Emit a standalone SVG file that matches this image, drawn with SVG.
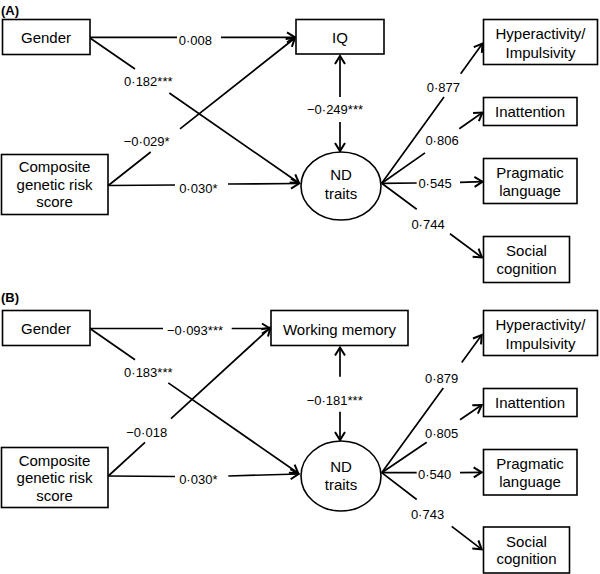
<svg xmlns="http://www.w3.org/2000/svg" width="600" height="574" viewBox="0 0 600 574">
<style>
.box{fill:#fff;stroke:#000;stroke-width:1.6}
.nt{font-family:"Liberation Sans",Arial,sans-serif;font-size:15px;text-anchor:middle;fill:#000}
.lb{font-family:"Liberation Sans",Arial,sans-serif;font-size:13px;text-anchor:middle;fill:#000}
.pl{font-family:"Liberation Sans",Arial,sans-serif;font-size:13px;font-weight:bold;fill:#000}
.c{fill:none;stroke:#000;stroke-width:1.7;marker-end:url(#ah)}
.d{fill:none;stroke:#000;stroke-width:1.7;marker-start:url(#ah);marker-end:url(#ah)}
</style>
<defs>
<marker id="ah" viewBox="-11 -7 13 14" markerWidth="13" markerHeight="14" refX="0" refY="0" orient="auto-start-reverse" markerUnits="userSpaceOnUse">
<path d="M-8,-5 L0,0 L-8,5" fill="none" stroke="#000" stroke-width="2"/>
</marker>
</defs>
<rect width="600" height="574" fill="#fff"/>

<!-- Panel A -->
<text class="pl" x="1" y="15">(A)</text>
<g id="connectorsA">
<path class="c" d="M90,37.3 L177,37.3 M221,37.3 L295,37.3"/>
<path class="c" d="M90,38 L135,69 M169.3,93 L299,183"/>
<path class="c" d="M108.3,185.5 L150.7,152 M180,128.9 L295,38"/>
<path class="c" d="M108.3,185.5 L175,185 M228,184 L299,183.5"/>
<path class="d" d="M340,56 L340,97 M340,122 L340,151"/>
<path class="c" d="M381.7,183.3 L444,97 M460.7,73.7 L482.5,43.5"/>
<path class="c" d="M381.7,183.3 L425,152.9 M459.3,128.8 L482.5,112.5"/>
<path class="c" d="M381.7,183.3 L416.7,183 M460,182.3 L482.5,181.7"/>
<path class="c" d="M381.7,183.3 L416.7,209.2 M450,233.8 L482,257.5"/>
<text class="lb" x="195.4" y="44.5">0·008</text>
<text class="lb" x="148.3" y="86">0·182***</text>
<text class="lb" x="146.7" y="146">−0·029*</text>
<text class="lb" x="198.3" y="192.5">0·030*</text>
<text class="lb" x="335" y="114">−0·249***</text>
<text class="lb" x="443.3" y="91.5">0·877</text>
<text class="lb" x="442" y="145">0·806</text>
<text class="lb" x="435" y="188">0·545</text>
<text class="lb" x="428" y="228.5">0·744</text>
</g>
<g id="genderA"><rect class="box" x="2.5" y="19.5" width="87.5" height="35"/><text class="nt" x="46" y="42.5">Gender</text></g>
<g id="compositeA"><rect class="box" x="1.5" y="154.5" width="106.5" height="60"/><text class="nt" x="54.5" y="172">Composite</text><text class="nt" x="54.5" y="189.5">genetic risk</text><text class="nt" x="54.5" y="207">score</text></g>
<g id="iqA"><rect class="box" x="296" y="19.5" width="88" height="34.5"/><text class="nt" x="340" y="42.5">IQ</text></g>
<g id="ndA"><ellipse class="box" cx="341" cy="186" rx="40" ry="34"/><text class="nt" x="341" y="180">ND</text><text class="nt" x="341" y="198.5">traits</text></g>
<g id="hyperA"><rect class="box" x="483.5" y="19.5" width="114" height="45"/><text class="nt" x="540.5" y="38.7">Hyperactivity/</text><text class="nt" x="540.5" y="57.7">Impulsivity</text></g>
<g id="inattA"><rect class="box" x="483.5" y="97.5" width="93.5" height="28"/><text class="nt" x="530" y="117">Inattention</text></g>
<g id="pragA"><rect class="box" x="483.5" y="158.5" width="93.5" height="45"/><text class="nt" x="530" y="178">Pragmatic</text><text class="nt" x="530" y="196">language</text></g>
<g id="socialA"><rect class="box" x="483.5" y="236.5" width="86" height="46"/><text class="nt" x="526.5" y="256">Social</text><text class="nt" x="526.5" y="273.7">cognition</text></g>

<!-- Panel B -->
<text class="pl" x="1" y="302">(B)</text>
<g id="connectorsB">
<path class="c" d="M90,328.5 L163,328.5 M231.7,328.5 L270,328.5"/>
<path class="c" d="M90.7,329 L135,359.8 M168.3,382.9 L298.3,473.3"/>
<path class="c" d="M108.3,476 L145,442.4 M171,418.6 L270.5,327.5"/>
<path class="c" d="M108.3,476 L175,476.5 M228.3,476 L298.5,474"/>
<path class="d" d="M340,347.5 L340,376.7 M340,411.7 L340,440"/>
<path class="c" d="M381.7,472.7 L443.3,387.9 M461.7,362.5 L481.7,335"/>
<path class="c" d="M381.7,472.7 L426.7,442.2 M460,419.7 L481.7,405"/>
<path class="c" d="M381.7,472.7 L416.7,472.7 M460,472.7 L481.7,472.3"/>
<path class="c" d="M381.7,472.7 L416.7,499.5 M451.7,526.3 L481.7,549.3"/>
<text class="lb" x="195" y="334.5">−0·093***</text>
<text class="lb" x="148.3" y="376.5">0·183***</text>
<text class="lb" x="146.7" y="436.5">−0·018</text>
<text class="lb" x="198.3" y="484">0·030*</text>
<text class="lb" x="334.7" y="405">−0·181***</text>
<text class="lb" x="441.7" y="382.5">0·879</text>
<text class="lb" x="441.7" y="437.5">0·805</text>
<text class="lb" x="434.7" y="478.5">0·540</text>
<text class="lb" x="427.5" y="519">0·743</text>
</g>
<g id="genderB"><rect class="box" x="2.5" y="310.5" width="87.5" height="35"/><text class="nt" x="46" y="334">Gender</text></g>
<g id="compositeB"><rect class="box" x="1.5" y="447.5" width="106.5" height="60"/><text class="nt" x="54.5" y="465.5">Composite</text><text class="nt" x="54.5" y="483">genetic risk</text><text class="nt" x="54.5" y="501">score</text></g>
<g id="wmB"><rect class="box" x="271" y="310.5" width="137" height="35"/><text class="nt" x="339.5" y="334.5">Working memory</text></g>
<g id="ndB"><ellipse class="box" cx="341" cy="476" rx="40" ry="35"/><text class="nt" x="341" y="471.5">ND</text><text class="nt" x="341" y="490">traits</text></g>
<g id="hyperB"><rect class="box" x="483.5" y="310.5" width="114" height="45"/><text class="nt" x="540.5" y="329.7">Hyperactivity/</text><text class="nt" x="540.5" y="348.7">Impulsivity</text></g>
<g id="inattB"><rect class="box" x="483.5" y="388.5" width="93.5" height="28"/><text class="nt" x="530" y="408">Inattention</text></g>
<g id="pragB"><rect class="box" x="483.5" y="449.5" width="93.5" height="45.5"/><text class="nt" x="530" y="469">Pragmatic</text><text class="nt" x="530" y="487">language</text></g>
<g id="socialB"><rect class="box" x="483.5" y="527" width="86" height="46"/><text class="nt" x="526.5" y="546.5">Social</text><text class="nt" x="526.5" y="564.2">cognition</text></g>
</svg>
